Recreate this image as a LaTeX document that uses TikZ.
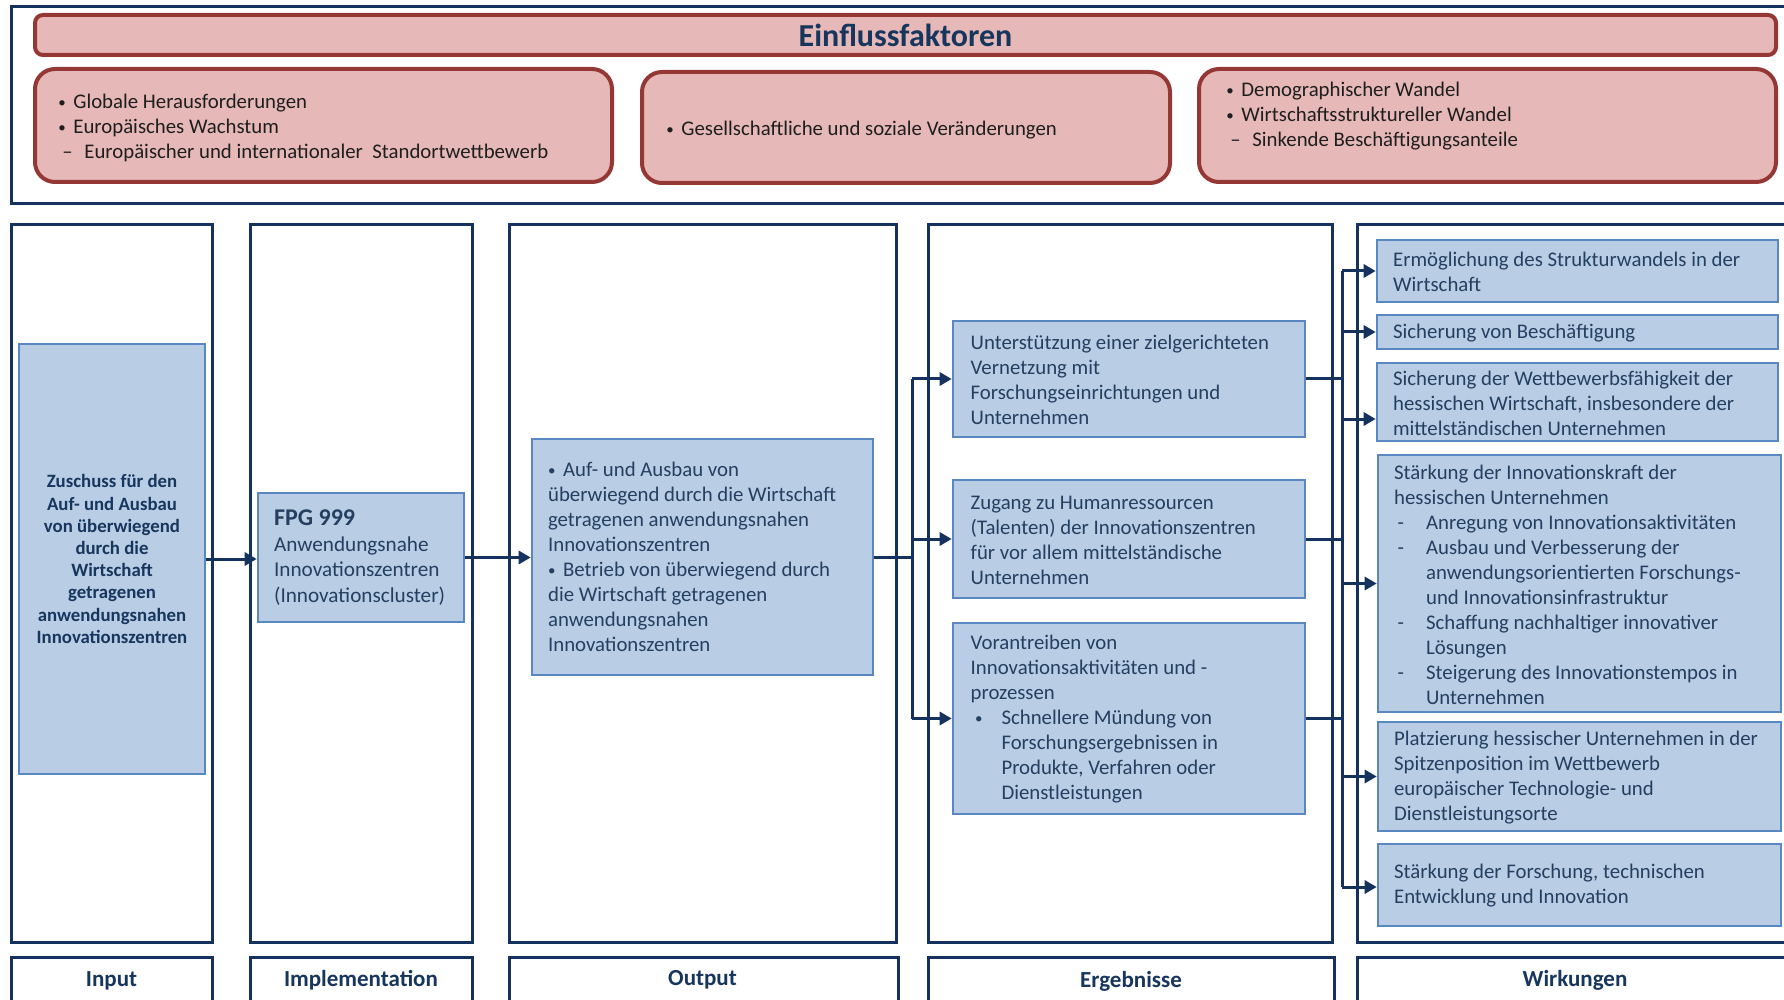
\documentclass[tikz,border=0pt]{standalone}
\usepackage{fontspec}
\setmainfont{Carlito}
\usetikzlibrary{arrows.meta}

\definecolor{navy}{HTML}{15325E}
\definecolor{pinkfill}{HTML}{E6B9B8}
\definecolor{pinkdraw}{HTML}{953735}
\definecolor{bluefill}{HTML}{B9CDE5}
\definecolor{bluedraw}{HTML}{5A86C2}
\definecolor{bluetext}{HTML}{243F60}
\definecolor{headtext}{HTML}{17365D}
\definecolor{darktext}{HTML}{1E1E1E}

% list markers
\newcommand{\smallbul}{\raisebox{0.12ex}{\scalebox{0.72}{\textbullet}}}
\newcommand{\pbul}{\makebox[7.5pt][l]{\smallbul}}
\newcommand{\pdash}{\hspace*{2pt}\makebox[11pt][l]{–}}
\newcommand{\obul}{\makebox[7.5pt][l]{\smallbul}}
\newcommand{\ebul}{\hspace*{2.2pt}\makebox[13.2pt][l]{\smallbul}}
\newcommand{\eind}{\hspace*{15.4pt}}
\newcommand{\wdash}{\hspace*{1.7pt}\makebox[14.3pt][l]{-}}
\newcommand{\wind}{\hspace*{16pt}}

\begin{document}
\begin{tikzpicture}[x=0.5pt,y=-0.5pt,
  pinkbox/.style={draw=pinkdraw, fill=pinkfill, line width=2pt, rounded corners=10pt, inner sep=0pt},
  bluebox/.style={draw=bluedraw, fill=bluefill, line width=1.3pt, inner sep=0pt},
  colframe/.style={draw=navy, line width=1.5pt},
  conn/.style={draw=navy, line width=1.5pt},
  arr/.style={conn, -{Triangle[length=6pt,width=6.5pt]}},
  ptext/.style={align=left, inner sep=0pt, text=darktext, font=\fontsize{10.4pt}{12.5pt}\selectfont},
  btext/.style={align=left, inner sep=0pt, text=bluetext, font=\fontsize{10.4pt}{12.5pt}\selectfont},
  labtext/.style={inner sep=0pt, text=headtext, font=\fontsize{11.5pt}{13pt}\selectfont\bfseries}]

\useasboundingbox (0,0) rectangle (1784,1000);
\fill[white] (0,0) rectangle (1784,1000);

% ---------- influence factors ----------
\draw[colframe] (1784,7) -- (11,7) -- (11,204) -- (1784,204);

\node[pinkbox, rounded corners=4pt, minimum width=870.5pt, minimum height=20pt,
      text=headtext, font=\fontsize{16pt}{18pt}\selectfont\bfseries] (title) at (905.5,35) {Einflussfaktoren};

\node[pinkbox, minimum width=288.5pt, minimum height=56.5pt] (f1) at (323.5,125.5) {};
\node[pinkbox, minimum width=264pt, minimum height=55.5pt] (f2) at (906,127.5) {};
\node[pinkbox, minimum width=288.5pt, minimum height=56.5pt] (f3) at (1487.5,125.5) {};

\node[ptext, anchor=west] (f1t) at (58,128) {\pbul Globale Herausforderungen\\
  \pbul Europäisches Wachstum\\
  \pdash Europäischer und internationaler\ \ Standortwettbewerb};
\node[ptext, anchor=west] (f2t) at (666,130.5) {\pbul Gesellschaftliche und soziale Veränderungen};
\node[ptext, anchor=west] (f3t) at (1226,116) {\pbul Demographischer Wandel\\
  \pbul Wirtschaftsstruktureller Wandel\\
  \pdash Sinkende Beschäftigungsanteile};

% ---------- columns ----------
\draw[colframe] (11,225) rectangle (212,942);
\draw[colframe] (250,225) rectangle (472,942);
\draw[colframe] (509,225) rectangle (896,942);
\draw[colframe] (928,225) rectangle (1332,942);
\draw[colframe] (1784,225) -- (1357,225) -- (1357,942) -- (1784,942);

% column headings (open to the bottom edge)
\draw[colframe] (11,1002) -- (11,957) -- (212,957) -- (212,1002);
\draw[colframe] (250,1002) -- (250,957) -- (472,957) -- (472,1002);
\draw[colframe] (509,1002) -- (509,957) -- (898,957) -- (898,1002);
\draw[colframe] (928,1002) -- (928,957) -- (1334,957) -- (1334,1002);
\draw[colframe] (1784,957) -- (1357,957) -- (1357,1002);

\node[labtext] (lin)  at (111.5,981) {Input};
\node[labtext] (limp) at (361,980) {Implementation};
\node[labtext] (lout) at (702.5,980) {Output};
\node[labtext] (lerg) at (1131,981) {Ergebnisse};
\node[labtext] (lwir) at (1575,980) {Wirkungen};

% ---------- input / implementation / output ----------
\node[bluebox, minimum width=93pt, minimum height=215pt, align=center, text=headtext,
      font=\fontsize{9.4pt}{11.1pt}\selectfont\bfseries] (in) at (112,559)
  {Zuschuss für den\\Auf- und Ausbau\\von überwiegend\\durch die\\Wirtschaft\\getragenen\\anwendungsnahen\\Innovationszentren};

\node[bluebox, minimum width=103pt, minimum height=64.5pt] (fpg) at (361,557.5) {};
\node[btext, anchor=west, font=\fontsize{10.6pt}{12.7pt}\selectfont] (fpgt) at ([xshift=8.5pt]fpg.west)
  {{\fontsize{12pt}{13pt}\selectfont\bfseries FPG 999}\\Anwendungsnahe\\Innovationszentren\\(Innovationscluster)};

\node[bluebox, minimum width=170.5pt, minimum height=118pt] (out) at (702.5,557) {};
\node[btext, anchor=west] (outt) at ([xshift=8.5pt]out.west)
  {\obul Auf- und Ausbau von\\
   überwiegend durch die Wirtschaft\\
   getragenen anwendungsnahen\\
   Innovationszentren\\
   \obul Betrieb von überwiegend durch\\
   die Wirtschaft getragenen\\
   anwendungsnahen\\
   Innovationszentren};

% ---------- results ----------
\node[bluebox, minimum width=176pt, minimum height=58pt] (e1) at (1129,379) {};
\node[bluebox, minimum width=176pt, minimum height=59pt] (e2) at (1129,539) {};
\node[bluebox, minimum width=176pt, minimum height=95.5pt] (e3) at (1129,718.5) {};

\node[btext, anchor=west] (e1t) at ([xshift=9.3pt,yshift=-0.5pt]e1.west)
  {Unterstützung einer zielgerichteten\\Vernetzung mit\\Forschungseinrichtungen und\\Unternehmen};
\node[btext, anchor=west] (e2t) at ([xshift=9.3pt,yshift=-0.5pt]e2.west)
  {Zugang zu Humanressourcen\\(Talenten) der Innovationszentren\\für vor allem\ mittelständische\\Unternehmen};
\node[btext, anchor=west] (e3t) at ([xshift=9.3pt,yshift=-0.5pt]e3.west)
  {Vorantreiben von\\Innovationsaktivitäten und -\\prozessen\\
   \ebul Schnellere Mündung von\\
   \eind Forschungsergebnissen in\\
   \eind Produkte, Verfahren oder\\
   \eind Dienstleistungen};

% ---------- impacts ----------
\node[bluebox, minimum width=200.5pt, minimum height=31pt] (w1) at (1577.5,271) {};
\node[bluebox, minimum width=200.5pt, minimum height=17pt] (w2) at (1577.5,332) {};
\node[bluebox, minimum width=200.5pt, minimum height=39pt] (w3) at (1577.5,402) {};
\node[bluebox, minimum width=201.5pt, minimum height=128.5pt] (w4) at (1579.5,583.5) {};
\node[bluebox, minimum width=201.5pt, minimum height=54.5pt] (w5) at (1579.5,776.5) {};
\node[bluebox, minimum width=201.5pt, minimum height=41pt] (w6) at (1579.5,885) {};

\node[btext, anchor=west] (w1t) at ([xshift=8.5pt,yshift=-0.5pt]w1.west)
  {Ermöglichung des Strukturwandels in der\\Wirtschaft};
\node[btext, anchor=west] (w2t) at ([xshift=8.5pt,yshift=-0.5pt]w2.west)
  {Sicherung von Beschäftigung};
\node[btext, anchor=west] (w3t) at ([xshift=8.5pt,yshift=-0.5pt]w3.west)
  {Sicherung der Wettbewerbsfähigkeit der\\hessischen Wirtschaft, insbesondere der\\mittelständischen Unternehmen};
\node[btext, anchor=west] (w4t) at ([xshift=8.5pt,yshift=-0.5pt]w4.west)
  {Stärkung der Innovationskraft der\\hessischen Unternehmen\\
   \wdash Anregung von Innovationsaktivitäten\\
   \wdash Ausbau und Verbesserung der\\
   \wind anwendungsorientierten Forschungs-\\
   \wind und Innovationsinfrastruktur\\
   \wdash Schaffung nachhaltiger innovativer\\
   \wind Lösungen\\
   \wdash Steigerung des Innovationstempos in\\
   \wind Unternehmen};
\node[btext, anchor=west] (w5t) at ([xshift=8.5pt,yshift=-0.5pt]w5.west)
  {Platzierung hessischer Unternehmen in der\\Spitzenposition im Wettbewerb\\europäischer Technologie- und\\Dienstleistungsorte};
\node[btext, anchor=west] (w6t) at ([xshift=8.5pt,yshift=-0.5pt]w6.west)
  {Stärkung der Forschung, technischen\\Entwicklung und Innovation};

% ---------- connectors ----------
\draw[arr] (in.east) -- (in.east -| fpg.west);
\draw[arr] (fpg.east) -- (fpg.east -| out.west);

\coordinate (ob) at (912,557);
\draw[conn] (out.east) -- (ob);
\draw[conn] (ob |- e1.west) -- (ob |- e3.west);
\draw[arr] (ob |- e1.west) -- (e1.west);
\draw[arr] (ob |- e2.west) -- (e2.west);
\draw[arr] (ob |- e3.west) -- (e3.west);

\coordinate (wb) at (1342,557);
\coordinate (w3in) at ([yshift=-8.5pt]w3.west);
\coordinate (w6in) at ([yshift=-1pt]w6.west);
\draw[conn] (e1.east) -- (e1.east -| wb);
\draw[conn] (e2.east) -- (e2.east -| wb);
\draw[conn] (e3.east) -- (e3.east -| wb);
\draw[conn] (wb |- w1.west) -- (wb |- w6in);
\draw[arr] (wb |- w1.west) -- (w1.west);
\draw[arr] (wb |- w2.west) -- (w2.west);
\draw[arr] (wb |- w3in) -- (w3in);
\draw[arr] (wb |- w4.west) -- (w4.west);
\draw[arr] (wb |- w5.west) -- (w5.west);
\draw[arr] (wb |- w6in) -- (w6in);

\end{tikzpicture}
\end{document}
